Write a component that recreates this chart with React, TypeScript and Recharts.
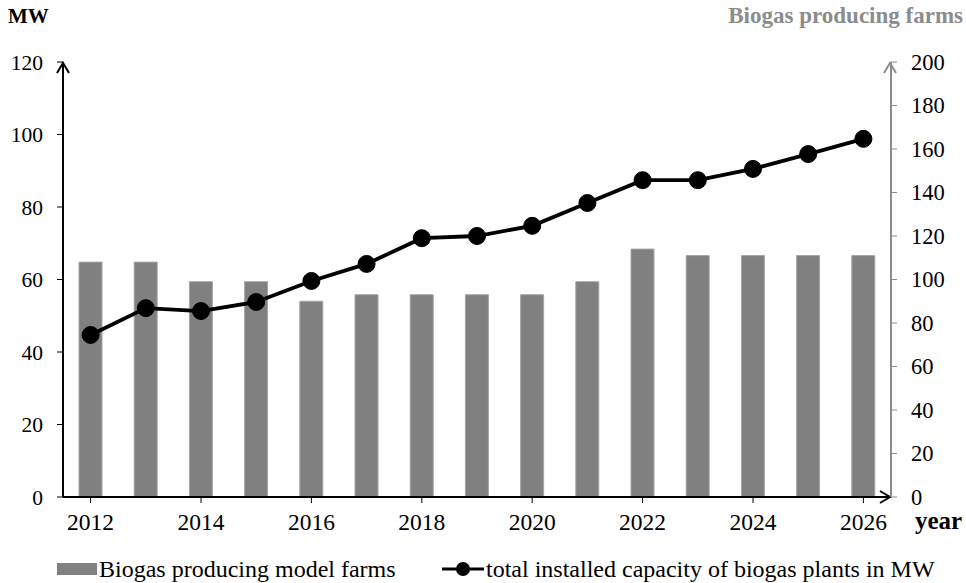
import React from 'react';
import * as R from 'recharts';
import { ComposedChart, Bar, Line, XAxis, YAxis } from 'recharts';

const years = ['2012','2013','2014','2015','2016','2017','2018','2019','2020','2021','2022','2023','2024','2025','2026'];
const farms = [108,108,99,99,90,93,93,93,93,99,114,111,111,111,111];
const capacityMW = [44.7,52.1,51.3,53.8,59.6,64.3,71.4,72,74.8,81.1,87.4,87.4,90.5,94.6,98.8];
const mwTicks = [0,20,40,60,80,100,120];
const farmTicks = [0,20,40,60,80,100,120,140,160,180,200];

const data = years.map((y, i) => ({ year: y, farms: farms[i], mw: capacityMW[i] }));

const FONT = '"Liberation Serif", "Times New Roman", serif';

const Arrows = () => {
  const usePA = (R as any).usePlotArea;
  const pa = usePA ? usePA() : null;
  const x = pa ? pa.x : 63;
  const y = pa ? pa.y : 62;
  const w = pa ? pa.width : 828;
  const h = pa ? pa.height : 435;
  const b = y + h;
  const r = x + w;
  return (
    <g>
      <path d={`M${x - 6},${y + 11} L${x},${y + 1} L${x + 6},${y + 11}`} fill="none" stroke="#000" strokeWidth={2} />
      <path d={`M${r - 7},${y + 11} L${r - 1},${y + 1} L${r + 5},${y + 11}`} fill="none" stroke="#8c8c8c" strokeWidth={2} />
      <path d={`M${r - 11},${b - 6} L${r - 1},${b} L${r - 11},${b + 6}`} fill="none" stroke="#000" strokeWidth={2} />
    </g>
  );
};

export default function App() {
  return (
    <div style={{ position: 'absolute', left: 0, top: 0, width: 966, height: 583, background: '#fff', fontFamily: FONT }}>
      <ComposedChart width={966} height={583} data={data} margin={{ top: 62, right: 0, bottom: 0, left: 0 }} barSize={23}>
        <XAxis dataKey="year" height={86} interval={1} tickSize={6} tickMargin={10}
          axisLine={{ stroke: '#000', strokeWidth: 2 }} tickLine={{ stroke: '#000' }}
          tick={{ fill: '#000', fontSize: 23.5, fontFamily: FONT }} />
        <YAxis yAxisId="mw" orientation="left" width={63} domain={[0, 120]} ticks={mwTicks}
          tickSize={6} tickMargin={14} axisLine={{ stroke: '#000', strokeWidth: 2 }} tickLine={{ stroke: '#000' }}
          tick={{ fill: '#000', fontSize: 21.5, fontFamily: FONT }} />
        <YAxis yAxisId="farms" orientation="right" width={75} domain={[0, 200]} ticks={farmTicks}
          tickSize={6} tickMargin={14} axisLine={{ stroke: '#8c8c8c', strokeWidth: 2 }} tickLine={{ stroke: '#8c8c8c' }}
          tick={{ fill: '#000', fontSize: 22.5, fontFamily: FONT }} />
        <Bar yAxisId="farms" dataKey="farms" fill="#808080" stroke="#a6a6a6" strokeWidth={1} isAnimationActive={false} />
        <Line yAxisId="mw" dataKey="mw" stroke="#000" strokeWidth={3.8}
          dot={{ r: 8.5, fill: '#000', stroke: '#000', strokeWidth: 1 }} activeDot={false} isAnimationActive={false} />
        <Arrows />
      </ComposedChart>
      <div style={{ position: 'absolute', left: 8, top: 4, fontWeight: 'bold', fontSize: 21, color: '#000' }}>MW</div>
      <div style={{ position: 'absolute', right: 3, top: 3, fontWeight: 'bold', fontSize: 23, color: '#8c8c8c' }}>Biogas producing farms</div>
      <div style={{ position: 'absolute', left: 915, top: 507, fontWeight: 'bold', fontSize: 25, color: '#000' }}>year</div>
      <div style={{ position: 'absolute', left: 57, top: 555, height: 28, display: 'flex', alignItems: 'center', fontSize: 24, color: '#000', whiteSpace: 'nowrap' }}>
        <div style={{ width: 40, height: 12, background: '#808080', marginRight: 2 }} />
        <span>Biogas producing model farms</span>
      </div>
      <div style={{ position: 'absolute', left: 442, top: 555, height: 28, display: 'flex', alignItems: 'center', fontSize: 24, color: '#000', whiteSpace: 'nowrap' }}>
        <svg width={42} height={20} style={{ marginRight: 2 }}>
          <line x1={0} y1={10} x2={42} y2={10} stroke="#000" strokeWidth={3} />
          <circle cx={21} cy={10} r={7} fill="#000" />
        </svg>
        <span>total installed capacity of biogas plants in MW</span>
      </div>
    </div>
  );
}
